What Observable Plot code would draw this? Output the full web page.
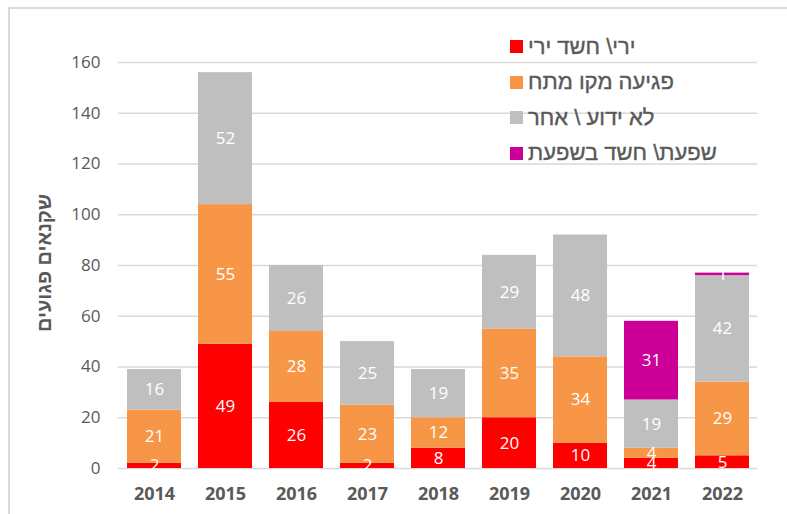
<!DOCTYPE html>
<html><head><meta charset="utf-8">
<script src="https://cdn.jsdelivr.net/npm/d3@7"></script>
<script src="https://cdn.jsdelivr.net/npm/@observablehq/plot@0.6"></script>
<style>
body{margin:0;background:#fff;}
#wrap{position:relative;width:787px;height:514px;overflow:hidden;font-family:"Open Sans",sans-serif;}
#frame{position:absolute;left:8px;top:7px;width:900px;height:700px;border:2px solid #d9d9d9;box-sizing:border-box;}
#chart{position:absolute;left:0;top:0;}
#legend{position:absolute;left:510px;top:29px;}
.row{display:flex;align-items:center;height:35.5px;}
.sw{width:13px;height:13px;margin-right:5px;flex:none;}
.lab{font-family:"Liberation Sans",Arial,sans-serif;font-size:22px;color:#595959;direction:rtl;white-space:nowrap;-webkit-text-stroke:0.4px #595959;}
#ytitle{position:absolute;left:44px;top:263px;transform:translate(-50%,-50%) rotate(-90deg);font-weight:bold;font-size:20px;color:#595959;white-space:nowrap;font-family:"Liberation Sans",Arial,sans-serif;direction:rtl;}
</style>
</head><body>
<div id="wrap">
<div id="frame"></div>
<div id="chart"></div>
<div id="ytitle"></div>
<div id="legend"></div>
</div>
<script>
const years = ["2014","2015","2016","2017","2018","2019","2020","2021","2022"];
const seriesNames = ["ירי\\ חשד ירי","פגיעה מקו מתח","לא ידוע \\ אחר","שפעת\\ חשד בשפעת"];
const colors = ["#ff0000","#f79646","#bfbfbf","#cc0099"];
const shooting = [2,49,26,2,8,20,10,4,5];
const powerline = [21,55,28,23,12,35,34,4,29];
const unknown = [16,52,26,25,19,29,48,19,42];
const flu = [0,0,0,0,0,0,0,31,1];
const yTicks = [0,20,40,60,80,100,120,140,160];
const yTitle = "שקנאים פגועים";

const seriesValues = [shooting, powerline, unknown, flu];
const rows = [];
seriesNames.forEach((s, si) => {
  years.forEach((yr, i) => {
    const v = seriesValues[si][i];
    if (v > 0) rows.push({year: yr, series: s, value: v});
  });
});

const chart = Plot.plot({
  width: 787, height: 514,
  marginLeft: 118, marginRight: 30, marginTop: 62, marginBottom: 46,
  style: {background: "transparent", fontFamily: "Open Sans, sans-serif", color: "#595959", overflow: "visible"},
  x: {domain: years, paddingInner: 0.24, paddingOuter: 0.12, label: null},
  y: {domain: [0, 160], label: null},
  color: {domain: seriesNames, range: colors},
  marks: [
    Plot.ruleY(yTicks, {stroke: "#d9d9d9", strokeWidth: 1.5}),
    Plot.barY(rows, {x: "year", y: "value", fill: "series", order: seriesNames}),
    Plot.text(rows, Plot.stackY({x: "year", y: "value", z: "series", order: seriesNames, text: d => String(d.value), fill: "white", fontSize: 17})),
    Plot.axisY(yTicks, {tickSize: 0, tickPadding: 18, fontSize: 17, fill: "#595959", label: null}),
    Plot.axisX({tickSize: 0, tickPadding: 19, fontSize: 18, fontWeight: "bold", fill: "#595959", label: null})
  ]
});
document.getElementById("chart").appendChild(chart);
document.getElementById("ytitle").textContent = yTitle;

const legend = document.getElementById("legend");
seriesNames.forEach((s, i) => {
  const row = document.createElement("div"); row.className = "row";
  const sw = document.createElement("div"); sw.className = "sw"; sw.style.background = colors[i];
  const lab = document.createElement("span"); lab.className = "lab"; lab.textContent = s;
  row.appendChild(sw); row.appendChild(lab); legend.appendChild(row);
});
</script>
</body></html>
